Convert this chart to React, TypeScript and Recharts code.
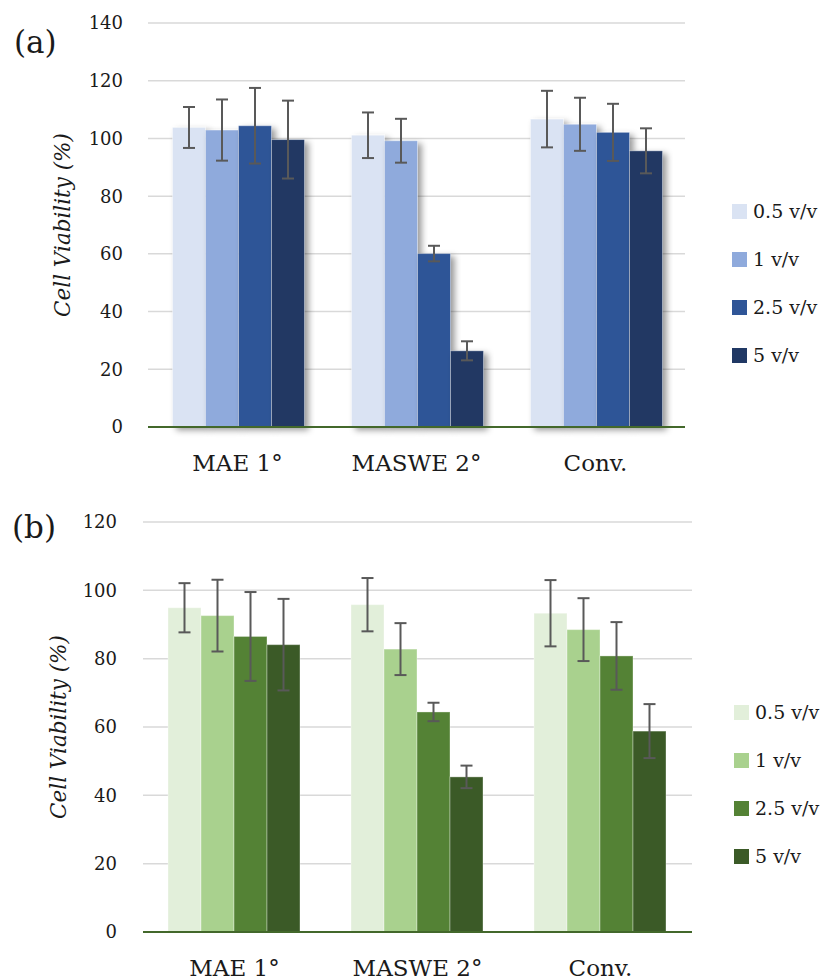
import { BarChart, Bar, XAxis, YAxis, CartesianGrid, ErrorBar } from "recharts";

const categories = ["MAE 1°", "MASWE 2°", "Conv."];
const seriesNames = ["0.5 v/v", "1 v/v", "2.5 v/v", "5 v/v"];

// panel (a)
const meanA05 = [103.8, 101.1, 106.7];
const meanA1 = [102.9, 99.2, 104.9];
const meanA25 = [104.4, 60.1, 102.1];
const meanA5 = [99.6, 26.4, 95.7];
const errA05 = [7.1, 7.9, 9.8];
const errA1 = [10.6, 7.6, 9.2];
const errA25 = [13.1, 2.7, 9.9];
const errA5 = [13.5, 3.3, 7.8];
const ticksA = [0, 20, 40, 60, 80, 100, 120, 140];

// panel (b)
const meanB05 = [94.9, 95.8, 93.3];
const meanB1 = [92.6, 82.8, 88.5];
const meanB25 = [86.5, 64.4, 80.8];
const meanB5 = [84.1, 45.4, 58.8];
const errB05 = [7.2, 7.8, 9.7];
const errB1 = [10.5, 7.6, 9.2];
const errB25 = [13.0, 2.7, 9.9];
const errB5 = [13.4, 3.3, 7.9];
const ticksB = [0, 20, 40, 60, 80, 100, 120];

const blues = ["#dae3f3", "#8faadc", "#2f5597", "#203864"];
const greens = ["#e2efda", "#a9d18e", "#548235", "#3b5a27"];

const FONT = "'DejaVu Serif', serif";
const TEXT = "#1a1a1a";

const buildData = (means: number[][], errs: number[][]) =>
  categories.map((name, i) => ({
    name,
    s0: means[0][i],
    s1: means[1][i],
    s2: means[2][i],
    s3: means[3][i],
    e0: errs[0][i],
    e1: errs[1][i],
    e2: errs[2][i],
    e3: errs[3][i],
  }));

const dataA = buildData([meanA05, meanA1, meanA25, meanA5], [errA05, errA1, errA25, errA5]);
const dataB = buildData([meanB05, meanB1, meanB25, meanB5], [errB05, errB1, errB25, errB5]);

const makeShape = (shadow: boolean) => (props: any) => {
  const { x, y, width, height, fill } = props;
  if (!height || height <= 0) return <g />;
  return (
    <rect
      x={x}
      y={y}
      width={width}
      height={height}
      fill={fill}
      stroke="#ffffff"
      strokeOpacity={0.35}
      strokeWidth={1}
      filter={shadow ? "url(#barShadow)" : undefined}
    />
  );
};

// legend drawn as plain html next to each chart
const SideLegend = ({ colors, left, top }: { colors: string[]; left: number; top: number }) => (
  <div style={{ position: "absolute", left, top, fontFamily: FONT, fontSize: 19, color: TEXT }}>
    {seriesNames.map((n, i) => (
      <div key={n} style={{ display: "flex", alignItems: "center", height: 48, whiteSpace: "nowrap" }}>
        <span style={{ display: "inline-block", width: 15, height: 15, background: colors[i], marginRight: 6 }} />
        <span>{n}</span>
      </div>
    ))}
  </div>
);

interface PanelProps {
  data: any[];
  colors: string[];
  ticks: number[];
  max: number;
  shadow: boolean;
  margin: { top: number; right: number; left: number; bottom: number };
  gap: number;
  tickGap: number;
  panel: string;
  panelPos: { x: number; y: number };
  labelPos: { x: number; y: number };
}

const Panel = (p: PanelProps) => {
  const shape = makeShape(p.shadow);
  return (
    <BarChart width={827} height={490} data={p.data} margin={p.margin} barGap={0} barCategoryGap={p.gap}>
      <defs>
        <filter id="barShadow" x="-30%" y="-10%" width="160%" height="130%">
          <feDropShadow dx="4" dy="3" stdDeviation="3" floodColor="#000" floodOpacity="0.4" />
        </filter>
      </defs>
      <CartesianGrid vertical={false} stroke="#d9d9d9" strokeWidth={1.5} />
      <YAxis
        width={58}
        domain={[0, p.max]}
        ticks={p.ticks}
        axisLine={false}
        tickLine={false}
        tickSize={0}
        tickMargin={p.tickGap}
        tick={{ fontFamily: FONT, fontSize: 18, fill: TEXT }}
      />
      {p.colors.map((c, i) => (
        <Bar key={i} dataKey={`s${i}`} name={seriesNames[i]} fill={c} shape={shape} isAnimationActive={false}>
          <ErrorBar dataKey={`e${i}`} width={6} stroke="#595959" strokeWidth={2} direction="y" isAnimationActive={false} />
        </Bar>
      ))}
      <XAxis
        dataKey="name"
        height={30}
        axisLine={{ stroke: "#43682b", strokeWidth: 2 }}
        tickLine={false}
        tickSize={0}
        tickMargin={28}
        tick={{ fontFamily: FONT, fontSize: 23, fill: TEXT }}
      />
      <text x={p.panelPos.x} y={p.panelPos.y} fontFamily={FONT} fontSize={31} fill={TEXT}>
        {p.panel}
      </text>
      <text
        x={p.labelPos.x}
        y={p.labelPos.y}
        transform={`rotate(-90, ${p.labelPos.x}, ${p.labelPos.y})`}
        textAnchor="middle"
        dominantBaseline="central"
        fontFamily={FONT}
        fontStyle="italic"
        fontSize={21.5}
        fill={TEXT}
      >
        Cell Viability (%)
      </text>
    </BarChart>
  );
};

export default function App() {
  return (
    <div style={{ position: "absolute", left: 0, top: 0, width: 827, height: 980, background: "#fff", fontFamily: FONT }}>
      <div style={{ position: "absolute", left: 0, top: 0 }}>
        <Panel
          data={dataA}
          colors={blues}
          ticks={ticksA}
          max={140}
          shadow={true}
          margin={{ top: 23, right: 142, left: 90, bottom: 33 }}
          gap={24.5}
          tickGap={25}
          panel="(a)"
          panelPos={{ x: 14, y: 53 }}
          labelPos={{ x: 62, y: 225 }}
        />
        <SideLegend colors={blues} left={732} top={187} />
      </div>
      <div style={{ position: "absolute", left: 0, top: 490 }}>
        <Panel
          data={dataB}
          colors={greens}
          ticks={ticksB}
          max={120}
          shadow={false}
          margin={{ top: 32, right: 135, left: 85, bottom: 18 }}
          gap={25}
          tickGap={26}
          panel="(b)"
          panelPos={{ x: 12, y: 48 }}
          labelPos={{ x: 58, y: 237 }}
        />
        <SideLegend colors={greens} left={734} top={198} />
      </div>
    </div>
  );
}
